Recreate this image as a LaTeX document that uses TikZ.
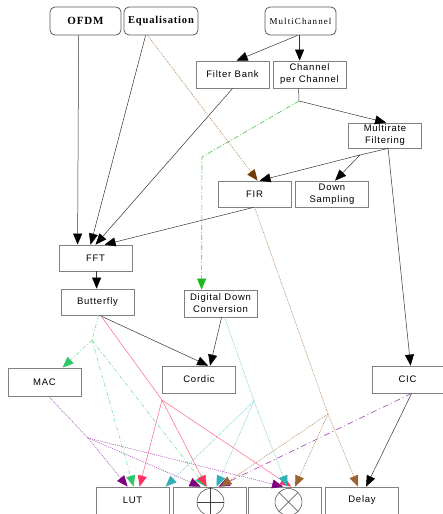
\documentclass[tikz,border=0pt]{standalone}
\usepackage{fontspec}
\setmainfont{Liberation Serif}
\newfontfamily\boxfont[LetterSpace=8]{Liberation Sans}
\newfontfamily\topfont[LetterSpace=8]{Liberation Serif}
\newfontfamily\mcfont[LetterSpace=12]{Liberation Serif}
\usetikzlibrary{arrows.meta,calc}
\definecolor{gline}{HTML}{7FDC9F}
\definecolor{ghead}{HTML}{2FC866}
\definecolor{dline}{HTML}{4CC04C}
\definecolor{dhead}{HTML}{1DB81D}
\definecolor{pline}{HTML}{FF6688}
\definecolor{phead}{HTML}{FF2F5F}
\definecolor{cline}{HTML}{70CCCC}
\definecolor{chead}{HTML}{33B0B5}
\definecolor{uline}{HTML}{A855B8}
\definecolor{uhead}{HTML}{7F007F}
\definecolor{bline}{HTML}{B8875A}
\definecolor{bhead}{HTML}{9A6330}
\definecolor{bdark}{HTML}{6E3A05}
\begin{document}
\begin{tikzpicture}[x=1pt,y=-1pt,
  box/.style={draw=black!50, line width=0.8pt, minimum width=73pt, minimum height=27pt,
    inner sep=1pt, align=center, font=\boxfont\fontsize{9.5}{12}\selectfont},
  topbox/.style={box, draw=black!65, rounded corners=5pt},
  tip/.style={-{Triangle[length=11pt,width=9pt,color=#1]}},
  blk/.style={draw=black!80, line width=0.5pt, tip=black},
  grn/.style={draw=gline, line width=0.6pt, dash pattern=on 4pt off 2pt on 1pt off 2pt, tip=ghead},
  ddg/.style={draw=dline, line width=0.6pt, dash pattern=on 5pt off 2pt on 1pt off 2pt, tip=dhead},
  pnk/.style={draw=pline, line width=0.5pt, tip=phead},
  cyn/.style={draw=cline, line width=0.6pt, dash pattern=on 1pt off 1pt, tip=chead},
  pur/.style={draw=uline, line width=0.6pt, dash pattern=on 1pt off 1pt, tip=uhead},
  pdd/.style={draw=uline, line width=0.7pt, dash pattern=on 6pt off 3pt on 1pt off 3pt, tip=uhead},
  brn/.style={draw=bline, line width=0.6pt, dash pattern=on 1pt off 1pt, tip=bhead},
  sym/.style={draw=black!75, line width=0.5pt}]
\useasboundingbox (0,0) rectangle (443,514);
\clip (0,0) rectangle (443,514);

% top rounded boxes
\node[topbox, minimum width=71pt, minimum height=28pt, font=\topfont\bfseries\fontsize{11}{13}\selectfont] (ofdm) at (85.5,21) {OFDM};
\node[topbox, minimum width=74pt, minimum height=28pt, font=\topfont\bfseries\fontsize{10.5}{13}\selectfont] (equal) at (161,21) {Equalisation};
\node[topbox, minimum width=71pt, minimum height=28pt, font=\mcfont\fontsize{9}{11}\selectfont] (multi) at (300.5,21) {MultiChannel};

% boxes
\node[box] (fbank) at (232.5,74.5) {Filter Bank};
\node[box] (cpc) at (309.5,74.5) {Channel\\per Channel};
\node[box, minimum height=25pt] (multirate) at (385,135.5) {Multirate\\Filtering};
\node[box, minimum height=26pt] (fir) at (254.5,194) {FIR};
\node[box, minimum height=26pt] (down) at (332,194) {Down\\Sampling};
\node[box, minimum height=26pt] (fft) at (95.5,258) {FFT};
\node[box, minimum height=26pt] (butterfly) at (97.5,302) {Butterfly};
\node[box] (ddc) at (220.5,303.5) {Digital Down\\Conversion};
\node[box, minimum height=28pt] (mac) at (44.5,382) {MAC};
\node[box] (cordic) at (199,379.5) {Cordic};
\node[box, minimum width=71pt] (cic) at (407.5,379.5) {CIC};
\node[box] (lut) at (132.5,500.5) {LUT};
\node[box] (oplus) at (209.5,500.5) {};
\node[box] (otimes) at (285,500.5) {};
\node[box] (delay) at (362,500.5) {Delay};

% operator symbols
\draw[sym] ([shift={(1,1.5)}]oplus.center) circle (13.5);
\draw[sym] ([xshift=1pt]oplus.north) -- ([xshift=1pt]oplus.south);
\draw[sym] ([shift={(-12.5,1.5)}]oplus.center) -- ([shift={(14.5,1.5)}]oplus.center);
\draw[sym] ([shift={(3.5,1.5)}]otimes.center) circle (13.5);
\draw[sym] ([shift={(-6,-8)}]otimes.center) -- ([shift={(13,11)}]otimes.center);
\draw[sym] ([shift={(13,-8)}]otimes.center) -- ([shift={(-6,11)}]otimes.center);

% branch points
\coordinate (cpcsplit) at (299,101);
\coordinate (ddcbend) at (202,157);
\coordinate (mrsplit) at (360,155);
\coordinate (gsplit) at (92,340);
\coordinate (psplit) at (162,400);
\coordinate (csplit) at (254,401);
\coordinate (msplit) at (88,438);
\coordinate (bsplit) at (328,414);

% black connectors
\draw[blk] ([xshift=29pt]ofdm.south west) -- ([xshift=19pt]fft.north west);
\draw[blk] ([xshift=22pt]equal.south west) -- ([xshift=32pt]fft.north west);
\draw[blk] ([xshift=37pt]fbank.south west) -- ([xshift=37pt]fft.north west);
\draw[blk] ([xshift=36pt]fir.south west) -- ([xshift=46pt]fft.north west);
\draw[blk] ([xshift=33pt]multi.south west) -- ([xshift=41pt]fbank.north west);
\draw[blk] ([xshift=35pt]multi.south west) -- ([xshift=27pt]cpc.north west);
\draw[blk] ([xshift=26pt]cpc.south west) -- (cpcsplit) -- ([xshift=38pt]multirate.north west);
\draw[blk] ([xshift=40pt]multirate.south west) -- (mrsplit) -- ([xshift=42pt]fir.north west);
\draw[blk] (mrsplit) -- ([xshift=40pt]down.north west);
\draw[blk] ([xshift=40pt]multirate.south west) -- ([xshift=39pt]cic.north west);
\draw[blk] ([xshift=38pt]fft.south west) -- ([xshift=36pt]butterfly.north west);
\draw[blk] ([xshift=39pt]butterfly.south west) -- ([xshift=46pt]cordic.north west);
\draw[blk] ([xshift=38pt]ddc.south west) -- ([xshift=48pt]cordic.north west);

% coloured connectors
\draw[ddg] (cpcsplit) -- (ddcbend) -- ([xshift=18pt]ddc.north west);
\draw[brn, tip=bdark] ([xshift=24pt]equal.south west) -- ([xshift=40pt]fir.north west);

\draw[grn, -] ([xshift=38pt]butterfly.south west) -- (gsplit);
\draw[grn] (gsplit) -- ([xshift=55pt]mac.north west);
\draw[grn] (gsplit) -- ([xshift=38pt]lut.north west);
\draw[grn] (gsplit) -- ([xshift=33pt]oplus.north west);

\draw[pur, -] ([xshift=41pt]mac.south west) -- (msplit);
\draw[pur] (msplit) -- ([xshift=32pt]lut.north west);
\draw[pur] (msplit) -- ([xshift=28pt]oplus.north west);
\draw[pur] (msplit) -- ([xshift=35pt]otimes.north west);

\draw[pnk, -] ([xshift=40pt]butterfly.south west) -- (psplit);
\draw[pnk] (psplit) -- ([xshift=44pt]lut.north west);
\draw[pnk] (psplit) -- ([xshift=34pt]oplus.north west);
\draw[pnk] (psplit) -- ([xshift=43pt]otimes.north west);

\draw[cyn, -] ([xshift=41pt]ddc.south west) -- (csplit);
\draw[cyn] (csplit) -- ([xshift=70pt]lut.north west);
\draw[cyn] (csplit) -- ([xshift=44pt]oplus.north west);
\draw[cyn] (csplit) -- ([xshift=39pt]otimes.north west);

\draw[pdd] ([xshift=40pt]cic.south west) -- ([xshift=46pt]oplus.north west);

\draw[brn, -] ([xshift=37pt]fir.south west) -- (bsplit);
\draw[brn] (bsplit) -- ([xshift=33pt]delay.north west);
\draw[brn] (bsplit) -- ([xshift=47pt]otimes.north west);
\draw[brn] (bsplit) -- ([xshift=48pt]oplus.north west);

\draw[blk] ([xshift=40pt]cic.south west) -- ([xshift=41pt]delay.north west);
\end{tikzpicture}
\end{document}
